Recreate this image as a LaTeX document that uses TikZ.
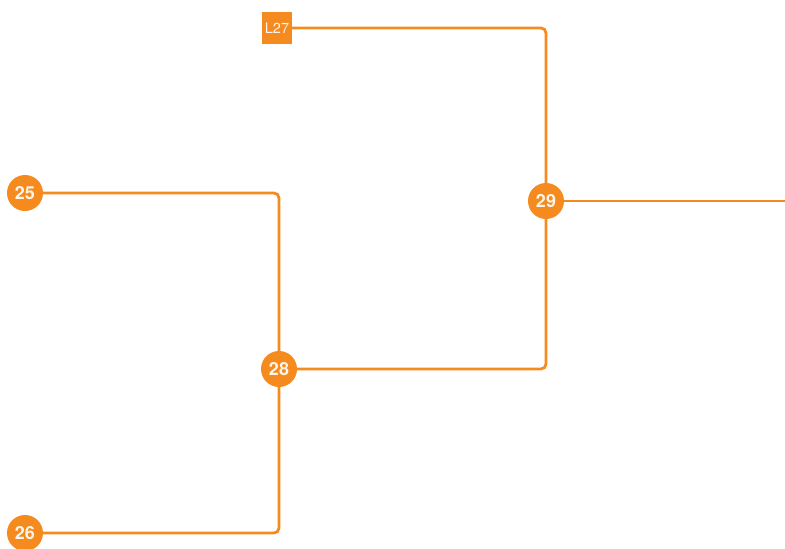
\documentclass[tikz,border=0pt]{standalone}
\usepackage{fontspec}
\setmainfont{TeX Gyre Heros}
\usetikzlibrary{positioning}
\definecolor{bracketOrange}{HTML}{F58A1F}
\tikzset{
  seed/.style={circle, fill=bracketOrange, text=white!92!orange, font=\fontsize{18}{18}\selectfont\bfseries,
               minimum size=36pt, inner sep=0pt},
  loser/.style={rectangle, fill=bracketOrange, text=white!92!orange, font=\fontsize{14.5}{15}\selectfont,
                minimum width=30pt, minimum height=32pt, inner sep=0pt},
  link/.style={draw=bracketOrange, line width=2.8pt, rounded corners=5pt},
}
\begin{document}
\begin{tikzpicture}[x=1pt, y=-1pt]
    \useasboundingbox (0,0) rectangle (785,549);
    \node[loser] (l27) at (277,28) {L27};
    \node[seed] (n25) at (25,193) {25};
    \node[seed] (n26) at (25,533) {26};
    \node[seed] (n28) at (279,369) {28};
    \node[seed] (n29) at (546,201) {29};
    \coordinate (out) at (785,201);
    \draw[link] (n25) -| (n28);
    \draw[link] (n26) -| (n28);
    \draw[link] (n28) -| (n29);
    \draw[link] (l27) -| (n29);
    \draw[link] (n29) -- (out);
\end{tikzpicture}
\end{document}
